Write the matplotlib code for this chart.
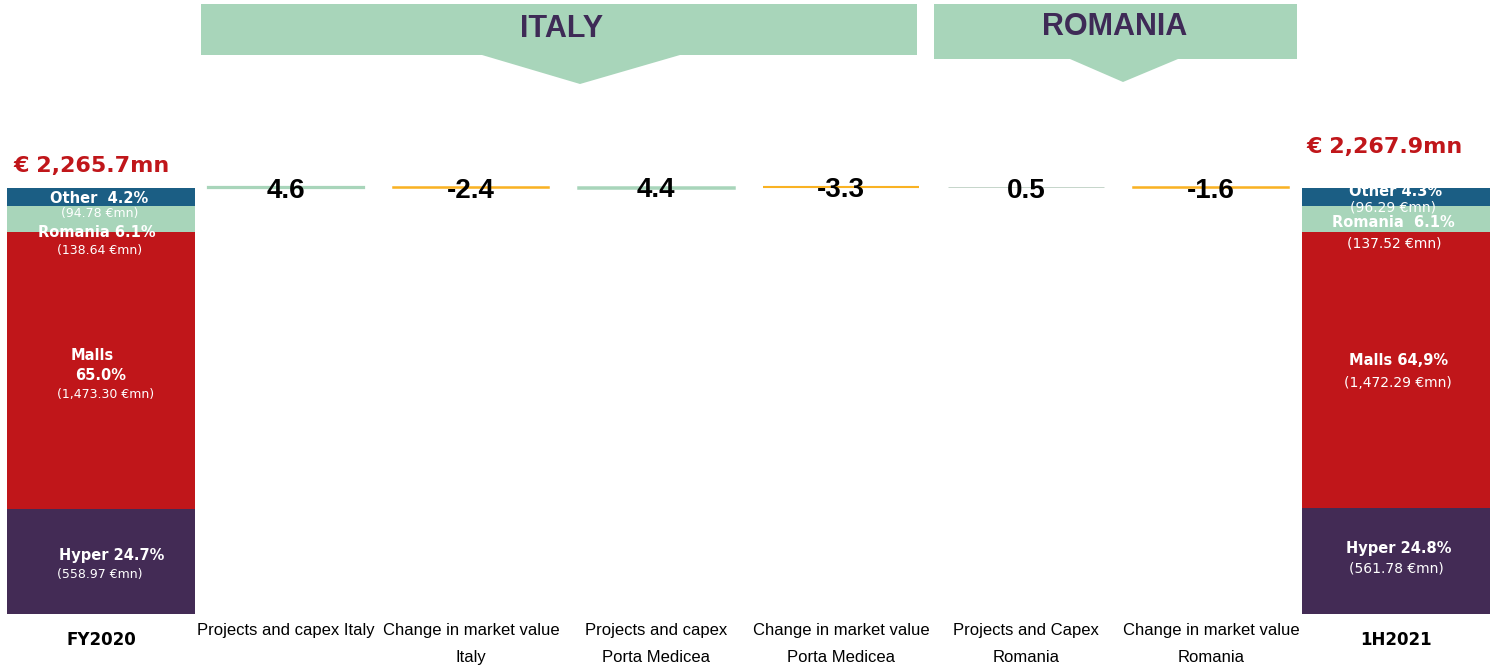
import matplotlib
matplotlib.use("Agg")
import matplotlib.pyplot as plt
from matplotlib import font_manager
from matplotlib.patches import Polygon

# ----------------------------
# Data
# ----------------------------
segments = ["Hyper", "Malls", "Romania", "Other"]
fy2020_values = [558.97, 1473.30, 138.64, 94.78]
h12021_values = [561.78, 1472.29, 137.52, 96.29]
fy2020_pct = ["24.7%", "65.0%", "6.1%", "4.2%"]
h12021_pct = ["24.8%", "64,9%", "6.1%", "4.3%"]
fy2020_total = "€ 2,265.7mn"
h12021_total = "€ 2,267.9mn"

step_labels = ["Projects and capex Italy", "Change in market value\nItaly",
               "Projects and capex\nPorta Medicea", "Change in market value\nPorta Medicea",
               "Projects and Capex\nRomania", "Change in market value\nRomania"]
step_values = [4.6, -2.4, 4.4, -3.3, 0.5, -1.6]

# ----------------------------
# Style
# ----------------------------
seg_colors = ["#432B55", "#C0161A", "#A8D5BA", "#1B5E84"]
step_colors = ["#A8D5BA", "#F9B223", "#A8D5BA", "#F9B223", "#BCCFC2", "#F9B223"]
step_lw = [1.6, 1.1, 1.8, 1.5, 0.6, 1.1]
red = "#C0161A"
purple = "#3E2A56"

installed = {f.name for f in font_manager.fontManager.ttflist}
narrow = "Liberation Sans Narrow" if "Liberation Sans Narrow" in installed else "Liberation Sans"
cond = narrow == "Liberation Sans Narrow"

W, H = 1492, 671
fig = plt.figure(figsize=(W / 100, H / 100), dpi=100)

px_per_unit = 0.188
base_px = 614
ax = fig.add_axes([0, (H - base_px) / H, 1, base_px / H])
ax.set_xlim(-0.546, 7.519)
ax.set_ylim(0, base_px / px_per_unit)
ax.axis("off")

# end bars (stacked)
for xpos, vals in [(0, fy2020_values), (7, h12021_values)]:
    bottom = 0
    for v, c in zip(vals, seg_colors):
        ax.bar(xpos, v, bottom=bottom, width=1.02, color=c, linewidth=0)
        bottom += v

# waterfall steps
level = sum(fy2020_values)
for i, (d, c, lw) in enumerate(zip(step_values, step_colors, step_lw)):
    x = i + 1
    ax.bar(x, d, bottom=level, width=0.84, color=c, edgecolor=c, linewidth=lw)
    top = level + max(d, 0)
    ax.annotate(f"{d:.1f}", (x, top), xytext=(0, -2.5), textcoords="offset points",
                ha="center", va="center", fontsize=25 if cond else 20,
                fontweight="bold", family=narrow, color="black")
    level += d


def seg_center(vals, k):
    return sum(vals[:k]) + vals[k] / 2


# segment labels: (segment index, text, dx, dy, bold, size)
left_labels = [
    (3, f"Other  {fy2020_pct[3]}", -1, -1, True, 10.5),
    (3, f"({fy2020_values[3]:,.2f} €mn)", -1, -12, False, 9),
    (2, f"Romania {fy2020_pct[2]}", -3, -9.5, True, 10.5),
    (2, f"({fy2020_values[2]:,.2f} €mn)", -1, -23, False, 9),
    (1, "Malls", -6, 10.5, True, 10.5),
    (1, fy2020_pct[1], 0, -3.9, True, 10.5),
    (1, f"({fy2020_values[1]:,.2f} €mn)", 3, -17.6, False, 9),
    (0, f"Hyper {fy2020_pct[0]}", 8, 4, True, 10.5),
    (0, f"({fy2020_values[0]:,.2f} €mn)", -1, -9.7, False, 9),
]
right_labels = [
    (3, f"Other {h12021_pct[3]}", 0, 3.5, True, 10.5),
    (3, f"({h12021_values[3]:,.2f} €mn)", -2, -7.5, False, 10),
    (2, f"Romania  {h12021_pct[2]}", -2, -2.4, True, 10.5),
    (2, f"({h12021_values[2]:,.2f} €mn)", -1, -17.6, False, 10),
    (1, f"Malls {h12021_pct[1]}", 1.5, 6.5, True, 10.5),
    (1, f"({h12021_values[1]:,.2f} €mn)", 1.5, -9.4, False, 10),
    (0, f"Hyper {h12021_pct[0]}", 2, 8.8, True, 10.5),
    (0, f"({h12021_values[0]:,.2f} €mn)", 0, -5.6, False, 10),
]
for xpos, vals, labels in [(0, fy2020_values, left_labels), (7, h12021_values, right_labels)]:
    for k, txt, dx, dy, bold, size in labels:
        ax.annotate(txt, (xpos, seg_center(vals, k)), xytext=(dx, dy),
                    textcoords="offset points", ha="center", va="center",
                    color="white", fontsize=size, family="DejaVu Sans",
                    fontweight="bold" if bold else "normal")

# totals
ax.annotate(fy2020_total, (0, sum(fy2020_values)), xytext=(-7, 16), textcoords="offset points",
            ha="center", va="center", fontsize=16, fontweight="heavy", color=red,
            family="DejaVu Sans")
ax.annotate(h12021_total, (7, sum(h12021_values)), xytext=(-8, 29), textcoords="offset points",
            ha="center", va="center", fontsize=16, fontweight="heavy", color=red,
            family="DejaVu Sans")

# category labels
for i, lab in enumerate(step_labels):
    ax.annotate(lab, (i + 1, 0), xycoords=("data", "axes fraction"), xytext=(0, -6.5),
                textcoords="offset points", ha="center", va="top",
                fontsize=14 if cond else 12, family=narrow, linespacing=1.35 if cond else 2.0)
for xpos, lab in [(0, "FY2020"), (7, "1H2021")]:
    ax.annotate(lab, (xpos, 0), xycoords=("data", "axes fraction"), xytext=(0, -18.5),
                textcoords="offset points", ha="center", va="center",
                fontsize=12, fontweight="bold", family="DejaVu Sans")


# header banners
def fpts(pts):
    return [(x / W, 1 - y / H) for x, y in pts]


italy = [(201, 4), (917, 4), (917, 55), (680, 55), (580, 84), (482, 55), (201, 55)]
romania = [(934, 4), (1297, 4), (1297, 59), (1178, 59), (1123, 82), (1070, 59), (934, 59)]
for pts in (italy, romania):
    fig.patches.append(Polygon(fpts(pts), closed=True, transform=fig.transFigure,
                               facecolor="#A8D5BA", edgecolor="none"))
fig.text(562 / W, 1 - 29 / H, "ITALY", ha="center", va="center", color=purple,
         fontsize=26 if cond else 22, fontweight="bold", family=narrow)
fig.text(1115 / W, 1 - 27 / H, "ROMANIA", ha="center", va="center", color=purple,
         fontsize=26 if cond else 22, fontweight="bold", family=narrow)

fig.savefig("out.png", dpi=100)
